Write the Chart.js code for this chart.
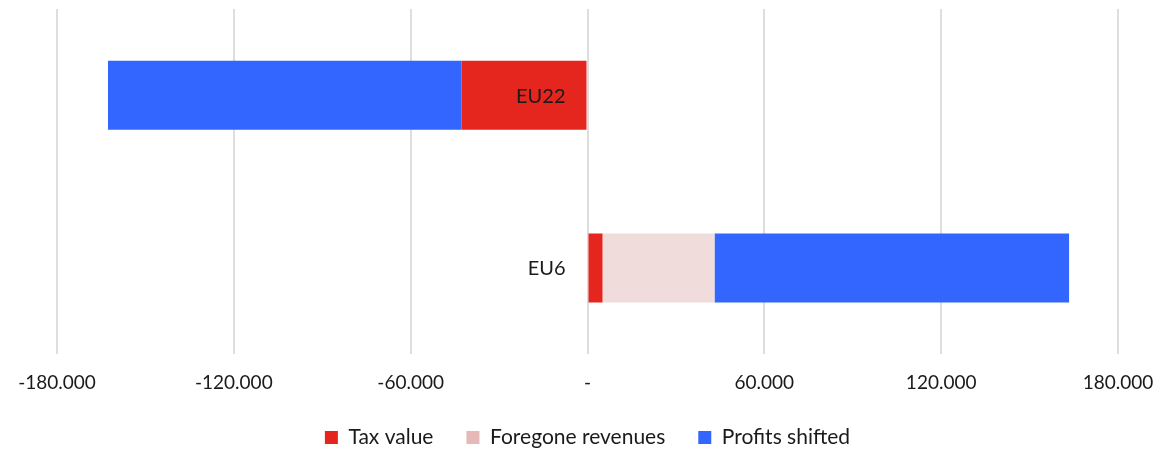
<!DOCTYPE html>
<html lang="en">
<head>
    <meta charset="UTF-8">
    <title>Profits shifted</title>
    <script src="https://cdn.jsdelivr.net/npm/chart.js"></script>
    <style>
        html, body { margin: 0; padding: 0; background: #fff; }
        #chartContainer { width: 1166px; height: 450px; }
    </style>
</head>
<body>
    <div id="chartContainer">
        <canvas id="taxChart"></canvas>
    </div>
    <script>
        // data
        const categories = ['EU22', 'EU6'];
        const taxValue = [-42700, 5100];
        const foregoneRevenues = [0, 38000];
        const profitsShifted = [-120000, 120300];
        const xTicks = [-180000, -120000, -60000, 0, 60000, 120000, 180000];

        const fontFamily = 'Lato, "Open Sans", sans-serif';
        const legendSwatches = ['#E5261E', '#E6B8B7', '#3366FF'];

        function formatTick(v) {
            if (v === 0) return '-';
            const s = Math.abs(v).toString().replace(/\B(?=(\d{3})+(?!\d))/g, '.');
            return (v < 0 ? '-' : '') + s;
        }

        // draws the category names next to the zero line, like the original
        const zeroLabels = {
            id: 'zeroLabels',
            afterDatasetsDraw(chart) {
                const ctx = chart.ctx;
                const x0 = chart.scales.x.getPixelForValue(0);
                ctx.save();
                ctx.font = '20px ' + fontFamily;
                ctx.fillStyle = '#1a1a1a';
                ctx.textAlign = 'right';
                ctx.textBaseline = 'middle';
                categories.forEach((c, i) => {
                    ctx.fillText(c, x0 - 22, chart.scales.y.getPixelForValue(i) + 1);
                });
                ctx.restore();
            }
        };

        // keep the wide item spacing of the legend but not its tall box
        const legendHeight = {
            id: 'legendHeight',
            beforeInit(chart) {
                const fit = chart.legend.fit;
                chart.legend.fit = function () {
                    fit.call(this);
                    this.height = 56;
                };
            }
        };

        const tickPad = 17;

        const ctx = document.getElementById('taxChart').getContext('2d');
        new Chart(ctx, {
            type: 'bar',
            data: {
                labels: categories,
                datasets: [{
                    label: 'Tax value',
                    data: taxValue,
                    backgroundColor: '#E5261E'
                }, {
                    label: 'Foregone revenues',
                    data: foregoneRevenues,
                    backgroundColor: '#F0DCDB'
                }, {
                    label: 'Profits shifted',
                    data: profitsShifted,
                    backgroundColor: '#3366FF'
                }]
            },
            options: {
                indexAxis: 'y',
                responsive: true,
                maintainAspectRatio: false,
                animation: false,
                layout: {
                    padding: { left: 57, right: 48, top: 9, bottom: 0 }
                },
                datasets: {
                    bar: {
                        categoryPercentage: 1,
                        barPercentage: 0.4,
                        borderWidth: 0
                    }
                },
                scales: {
                    x: {
                        stacked: true,
                        min: -180000,
                        max: 180000,
                        afterBuildTicks: axis => {
                            axis.ticks = xTicks.map(v => ({ value: v }));
                        },
                        // label padding is counted twice, drop the part below the labels;
                        // the side room comes from layout.padding instead
                        afterFit: axis => {
                            axis.height -= tickPad;
                            axis.paddingLeft = 0;
                            axis.paddingRight = 0;
                        },
                        grid: {
                            color: '#dedede',
                            lineWidth: 2,
                            drawTicks: false
                        },
                        border: { display: false },
                        ticks: {
                            callback: v => formatTick(v),
                            color: '#1a1a1a',
                            font: { family: fontFamily, size: 19 },
                            padding: tickPad,
                            maxRotation: 0
                        }
                    },
                    y: {
                        stacked: true,
                        display: false
                    }
                },
                plugins: {
                    legend: {
                        position: 'bottom',
                        labels: {
                            boxWidth: 13,
                            boxHeight: 13,
                            padding: 33,
                            color: '#1a1a1a',
                            font: { family: fontFamily, size: 21 },
                            generateLabels: chart => {
                                const items = Chart.defaults.plugins.legend.labels.generateLabels(chart);
                                items.forEach((it, i) => {
                                    it.fillStyle = legendSwatches[i];
                                    it.lineWidth = 0;
                                });
                                return items;
                            }
                        }
                    },
                    tooltip: { enabled: false }
                }
            },
            plugins: [zeroLabels, legendHeight]
        });
    </script>
</body>
</html>
